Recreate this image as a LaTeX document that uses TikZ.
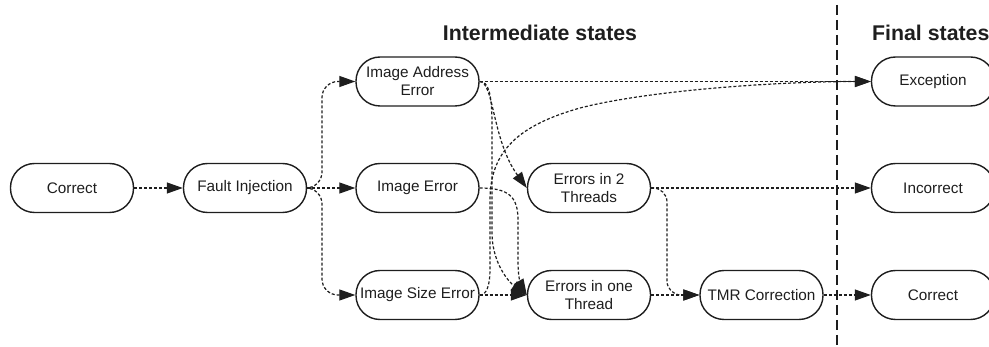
\documentclass[tikz,border=0pt]{standalone}
\usepackage{fontspec}
\setmainfont{Liberation Sans}
\usetikzlibrary{arrows.meta}
\definecolor{ink}{HTML}{1E1E1E}
\begin{document}
\begin{tikzpicture}[x=1pt,y=-1pt,
  state/.style={draw=ink, line width=1.4pt, rounded corners=24pt,
    minimum width=123pt, minimum height=49pt, inner sep=1pt,
    align=center, text=ink, font=\fontsize{15.3}{18}\selectfont},
  conn/.style={draw=ink, line width=1.2pt, dash pattern=on 3pt off 2pt,
    -{Triangle[length=16pt,width=11pt]}},
  heading/.style={font=\fontsize{21.3}{24}\selectfont\bfseries, text=ink,
    inner sep=0pt},
  divider/.style={draw=ink, line width=1.2pt, dash pattern=on 10pt off 5pt},
]
\clip (0,0) rectangle (989,347);

% column headings
\node[heading, anchor=base] (hInter) at (540,41) {Intermediate states};
\node[heading, anchor=base west] (hFinal) at (872,41) {Final states};

% boundary between intermediate and final states
\coordinate (divTop) at (837,5);
\coordinate (divBot) at (837,347);
\draw[divider] (divTop) -- (divBot);

% states
\node[state] (start) at (72,188)    {Correct};
\node[state] (fi)    at (245,188)   {Fault Injection};
\node[state] (iae)   at (417.5,81.5){Image Address\\Error};
\node[state] (ie)    at (417.5,188) {Image Error};
\node[state] (ise)   at (417.5,295) {Image Size Error};
\node[state] (e2t)   at (589,188)   {Errors in 2\\Threads};
\node[state] (e1t)   at (589,295)   {Errors in one\\Thread};
\node[state] (tmr)   at (761.5,295) {TMR Correction};
\node[state] (exc)   at (933,81.5)  {Exception};
\node[state] (inc)   at (933,188)   {Incorrect};
\node[state] (ok)    at (933,295)   {Correct};

% transitions
\draw[conn] (start) -- (fi);
\draw[conn, rounded corners=16pt] (fi.east) -| (322,130) |- (iae.west);
\draw[conn] (fi.east) -- (ie.west);
\draw[conn, rounded corners=16pt] (fi.east) -| (322,240) |- (ise.west);

\draw[conn] (iae.east) -- (exc.west);
\draw[conn] (iae.east) .. controls (494,82) and (492,140) .. (e2t.west);
\draw[conn] (iae.east) .. controls (488,81.5) and (492,92) .. (492,125)
  -- (492,235) .. controls (493,265) and (510,283) .. (e1t.west);
\draw[conn] (ie.east) .. controls (508,188) and (518,196) .. (518,220)
  -- (518,262) .. controls (518,280) and (522,287) .. (e1t.west);
\draw[conn] (ise.east) -- (e1t.west);
\draw[conn] (ise.east) .. controls (487,295) and (490,285) .. (490,268)
  -- (490,200) .. controls (490,150) and (520,125) .. (580,108)
  .. controls (650,90) and (780,81.5) .. (exc.west);

\draw[conn] (e2t.east) -- (inc.west);
\draw[conn, rounded corners=14pt] (e2t.east) -| (667,250) |- (tmr.west);
\draw[conn] (e1t) -- (tmr);
\draw[conn] (tmr) -- (ok);
\end{tikzpicture}
\end{document}
